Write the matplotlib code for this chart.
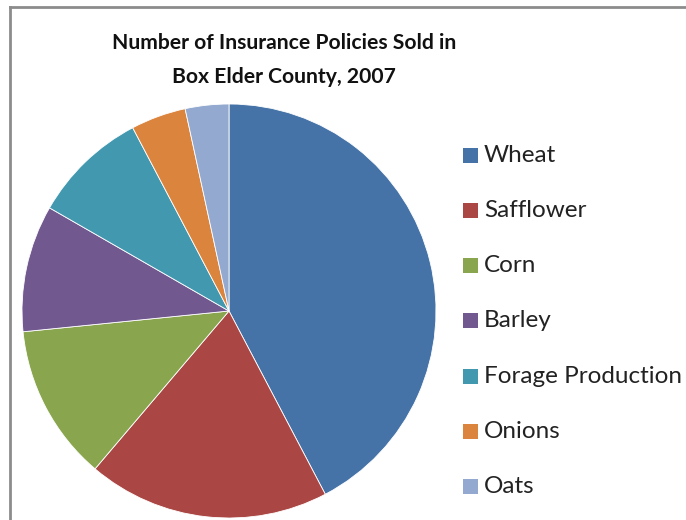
import matplotlib
matplotlib.use("Agg")
import matplotlib.pyplot as plt
from matplotlib.patches import Rectangle
from matplotlib.lines import Line2D

categories = ["Wheat", "Safflower", "Corn", "Barley", "Forage Production", "Onions", "Oats"]
values = [42.3, 18.9, 12.2, 9.9, 9.0, 4.3, 3.4]
colors = ["#4572A7", "#AA4643", "#89A54E", "#71588F", "#4198AF", "#DB843D", "#93A9CF"]
title = "Number of Insurance Policies Sold in\nBox Elder County, 2007"

FONT = ["Lato", "DejaVu Sans"]
W, H = 686, 520
fig = plt.figure(figsize=(W / 100, H / 100), dpi=100)
fig.patch.set_facecolor("white")

# pie axes: center (229,311), r=207 in px
cx, cy, r = 229, 311, 207
ax = fig.add_axes([(cx - r) / W, (H - cy - r) / H, 2 * r / W, 2 * r / H])
ax.pie(values, colors=colors, startangle=90, counterclock=False, radius=1,
       wedgeprops=dict(edgecolor="white", linewidth=0.6))
ax.set_xlim(-1, 1)
ax.set_ylim(-1, 1)
ax.set_aspect("auto")
ax.axis("off")

# chart border (top and left visible)
fig.add_artist(Line2D([10 / W, 1], [1 - 7 / H, 1 - 7 / H], color="#8c8c8c", lw=2, transform=fig.transFigure))
fig.add_artist(Line2D([10 / W, 10 / W], [0, 1 - 7 / H], color="#8c8c8c", lw=2, transform=fig.transFigure))

fig.text(284 / W, 1 - 60 / H, title, ha="center", va="center", fontsize=15.2,
         family=FONT, fontweight="bold", linespacing=1.9, color="#111111")

y0, dy = 155, 55.3
for i, (lab, col) in enumerate(zip(categories, colors)):
    y = y0 + i * dy
    fig.add_artist(Rectangle((463 / W, 1 - (y + 7.5) / H), 15 / W, 15 / H,
                             facecolor=col, edgecolor="none", transform=fig.transFigure))
    fig.text(484 / W, 1 - y / H, lab, ha="left", va="center", fontsize=17.5,
             family=FONT, color="#222222")

fig.savefig("out.png", dpi=100)
